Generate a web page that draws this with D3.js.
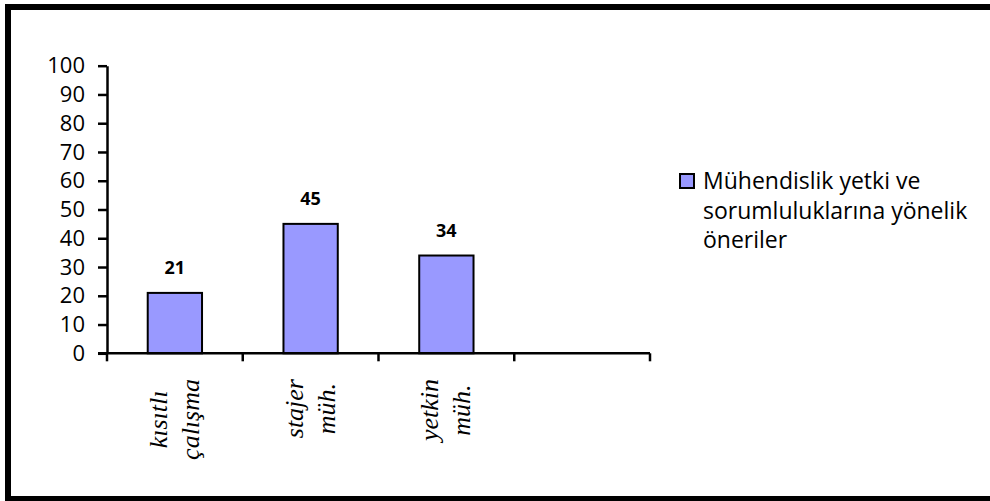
<!DOCTYPE html>
<html>
<head>
<meta charset="utf-8">
<script src="https://cdn.jsdelivr.net/npm/d3@7"></script>
<style>
  html, body { margin: 0; padding: 0; background: #fff; }
  svg { display: block; }
</style>
</head>
<body>
<svg id="chart" width="990" height="501"></svg>
<script>
// Category labels (each line of a wrapped label), values and axis ticks
const categories = [["kısıtlı", "çalışma"], ["stajer", "müh."], ["yetkin", "müh."], []];
const values = [21, 45, 34, null];
const yTicks = [0, 10, 20, 30, 40, 50, 60, 70, 80, 90, 100];
const seriesName = ["Mühendislik yetki ve", "sorumluluklarına yönelik", "öneriler"];

const barFill = "#9999FF";
const sansFont = "'Open Sans', 'Noto Sans', sans-serif";
const serifFont = "'Liberation Serif', 'DejaVu Serif', serif";

const svg = d3.select("#chart");

// outer frame
svg.append("rect")
  .attr("x", 8).attr("y", 7)
  .attr("width", 990).attr("height", 492)
  .attr("fill", "none").attr("stroke", "#000").attr("stroke-width", 6);

const plot = { left: 107, right: 650, top: 65.7, bottom: 353.3 };

const x = d3.scaleBand()
  .domain(d3.range(categories.length))
  .range([plot.left, plot.right])
  .paddingInner(0).paddingOuter(0);

const y = d3.scaleLinear()
  .domain([0, 100])
  .range([plot.bottom, plot.top]);

// bars
const barW = x.bandwidth() * 0.4;
const bars = values.map((v, i) => ({ v, i })).filter(d => d.v != null);

svg.append("g").selectAll("rect")
  .data(bars)
  .join("rect")
  .attr("x", d => x(d.i) + (x.bandwidth() - barW) / 2)
  .attr("y", d => y(d.v))
  .attr("width", barW)
  .attr("height", d => y(0) - y(d.v))
  .attr("fill", barFill)
  .attr("stroke", "#000")
  .attr("stroke-width", 2);

// value labels above bars
svg.append("g").selectAll("text")
  .data(bars)
  .join("text")
  .attr("x", d => x(d.i) + x.bandwidth() / 2)
  .attr("y", d => y(d.v) - 19)
  .attr("text-anchor", "middle")
  .attr("font-family", sansFont)
  .attr("font-weight", "bold")
  .attr("font-size", 18)
  .attr("fill", "#000")
  .text(d => d.v);

// y axis
const yAxis = svg.append("g")
  .attr("transform", `translate(${plot.left},0)`)
  .call(d3.axisLeft(y).tickValues(yTicks).tickSize(9).tickSizeOuter(0).tickPadding(13));
yAxis.select(".domain").attr("stroke", "#000").attr("stroke-width", 2.5);
yAxis.selectAll(".tick line").attr("stroke", "#000").attr("stroke-width", 2.5);
yAxis.selectAll(".tick text")
  .attr("font-family", sansFont)
  .attr("font-size", 22)
  .attr("fill", "#000");

// x axis: line with ticks at category boundaries
const boundaries = d3.range(categories.length + 1).map(i =>
  i < categories.length ? x(i) : x(categories.length - 1) + x.bandwidth());
const xAxis = svg.append("g");
xAxis.append("line")
  .attr("x1", plot.left - 9).attr("x2", plot.right)
  .attr("y1", y(0)).attr("y2", y(0))
  .attr("stroke", "#000").attr("stroke-width", 2.5);
xAxis.selectAll("line.tick")
  .data(boundaries)
  .join("line")
  .attr("class", "tick")
  .attr("x1", d => d).attr("x2", d => d)
  .attr("y1", y(0)).attr("y2", y(0) + 8)
  .attr("stroke", "#000").attr("stroke-width", 2.5);

// rotated, wrapped category labels
const labelTop = 379;
const lineOffsets = [-8, 24];
categories.forEach((lines, i) => {
  if (!lines.length) return;
  const cx = x(i) + x.bandwidth() / 2;
  const g = svg.append("g").attr("transform", `translate(${cx},${labelTop}) rotate(-90)`);
  const texts = lines.map((t, k) => g.append("text")
    .attr("y", lineOffsets[k])
    .attr("text-anchor", "middle")
    .attr("font-family", serifFont)
    .attr("font-style", "italic")
    .attr("font-size", 26)
    .attr("fill", "#000")
    .text(t));
  const maxLen = d3.max(texts, t => t.node().getComputedTextLength());
  texts.forEach(t => t.attr("x", -maxLen / 2));
});

// legend
const legend = svg.append("g");
legend.append("rect")
  .attr("x", 680).attr("y", 174)
  .attr("width", 14).attr("height", 14)
  .attr("fill", barFill).attr("stroke", "#000").attr("stroke-width", 2);
legend.selectAll("text")
  .data(seriesName)
  .join("text")
  .attr("x", 703)
  .attr("y", (d, k) => 189 + k * 29.5)
  .attr("font-family", sansFont)
  .attr("font-size", 23)
  .attr("fill", "#000")
  .text(d => d);
</script>
</body>
</html>
